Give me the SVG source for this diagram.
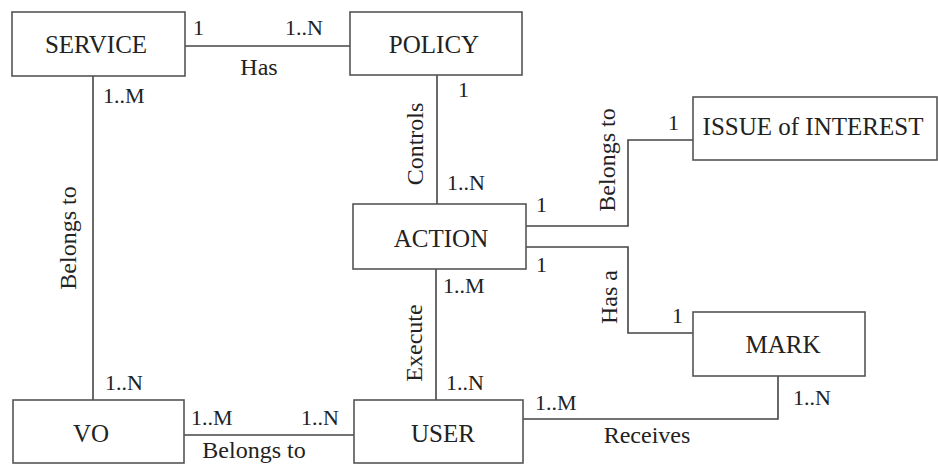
<svg xmlns="http://www.w3.org/2000/svg" width="938" height="465" viewBox="0 0 938 465">
<style>
.box{fill:#fff;stroke:#555;stroke-width:1.6}
.name{font-family:"Liberation Serif","Times New Roman",serif;font-size:25px;fill:#222;text-anchor:middle}
.rel{font-family:"Liberation Serif","Times New Roman",serif;font-size:24px;fill:#222}
.card{font-family:"Liberation Serif","Times New Roman",serif;font-size:22px;fill:#222}
.mid{text-anchor:middle}
.conn{fill:none;stroke:#444;stroke-width:1.6}
</style>
<rect width="938" height="465" fill="#fff"/>
<g id="connectors">
<path class="conn" d="M185 46 H350"/>
<path class="conn" d="M93 76 V400"/>
<path class="conn" d="M437 75 V204"/>
<path class="conn" d="M436 269 V400"/>
<path class="conn" d="M526 226 H628 V140 H693"/>
<path class="conn" d="M526 247 H628 V333 H693"/>
<path class="conn" d="M184 435 H354"/>
<path class="conn" d="M523 419 H778 V376"/>
<text class="rel mid" x="259" y="75">Has</text>
<text class="card" x="193" y="35">1</text>
<text class="card" x="285" y="35">1..N</text>
<text class="card" x="103" y="103">1..M</text>
<text class="rel mid" transform="translate(76,238) rotate(-90)">Belongs to</text>
<text class="card" x="105" y="390">1..N</text>
<text class="card" x="458" y="97">1</text>
<text class="rel mid" transform="translate(423,144) rotate(-90)">Controls</text>
<text class="card" x="447" y="190">1..N</text>
<text class="card" x="536" y="212">1</text>
<text class="rel mid" transform="translate(615,160) rotate(-90)">Belongs to</text>
<text class="card" x="668" y="130">1</text>
<text class="card" x="536" y="272">1</text>
<text class="rel mid" transform="translate(617,297) rotate(-90)">Has a</text>
<text class="card" x="672" y="323">1</text>
<text class="card" x="443" y="293">1..M</text>
<text class="rel mid" transform="translate(422,343) rotate(-90)">Execute</text>
<text class="card" x="446" y="390">1..N</text>
<text class="card" x="191" y="425">1..M</text>
<text class="card" x="301" y="425">1..N</text>
<text class="rel mid" x="254" y="458">Belongs to</text>
<text class="card" x="535" y="410">1..M</text>
<text class="card" x="793" y="405">1..N</text>
<text class="rel mid" x="647" y="443">Receives</text>
</g>
<g id="service"><rect class="box" x="12" y="12" width="173" height="64"/><text class="name" x="96" y="53">SERVICE</text></g>
<g id="policy"><rect class="box" x="350" y="12" width="172" height="63"/><text class="name" x="434" y="53">POLICY</text></g>
<g id="issue"><rect class="box" x="693" y="97" width="244" height="63"/><text class="name" x="813" y="135">ISSUE of INTEREST</text></g>
<g id="action"><rect class="box" x="353" y="204" width="173" height="65"/><text class="name" x="441" y="247">ACTION</text></g>
<g id="mark"><rect class="box" x="693" y="312" width="172" height="64"/><text class="name" x="783" y="353">MARK</text></g>
<g id="vo"><rect class="box" x="13" y="400" width="171" height="63"/><text class="name" x="91" y="442">VO</text></g>
<g id="user"><rect class="box" x="354" y="400" width="169" height="63"/><text class="name" x="443" y="442">USER</text></g>
</svg>
